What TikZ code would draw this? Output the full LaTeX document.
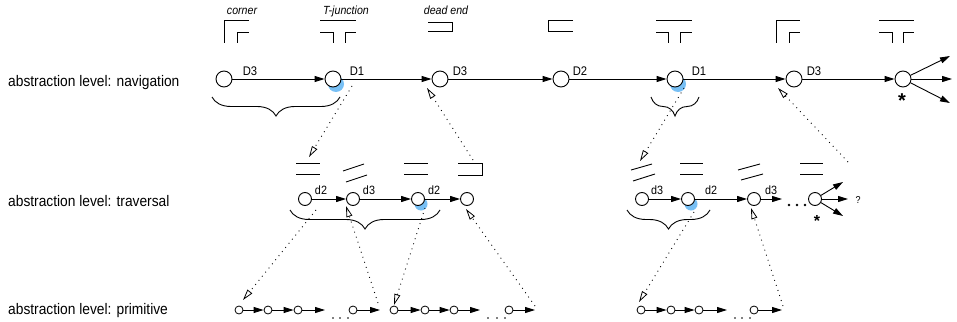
\documentclass[tikz,border=0pt]{standalone}
\usepackage{fontspec}
\setmainfont{Liberation Sans}
\newfontfamily\nar{Liberation Sans}[FakeStretch=0.9]
\usetikzlibrary{arrows.meta,decorations.pathreplacing}
\definecolor{lightblu}{RGB}{120,192,245}
\begin{document}
\begin{tikzpicture}[x=1pt,y=-1pt,
  nav/.style={circle,draw,fill=white,minimum size=16pt,inner sep=0pt,line width=0.9pt},
  trav/.style={circle,draw,fill=white,minimum size=13pt,inner sep=0pt,line width=0.9pt},
  prim/.style={circle,draw,fill=white,minimum size=8pt,inner sep=0pt,line width=0.8pt},
  arr/.style={-{Triangle[length=10pt,width=6pt]},line width=0.9pt},
  parr/.style={-{Triangle[length=10pt,width=6pt]},line width=0.9pt},
  link/.style={dash pattern=on 0.9pt off 4.4pt,line width=0.9pt,-{Triangle[open,length=11pt,width=6pt,line width=0.8pt]}},
  sym/.style={line width=0.9pt},
  lvl/.style={font=\nar\fontsize{15.3}{18}\selectfont,anchor=base west,inner sep=0pt},
  dlab/.style={font=\nar\fontsize{12.5}{15}\selectfont,anchor=base,inner sep=0pt},
  tlab/.style={font=\nar\fontsize{12}{14}\selectfont,anchor=base,inner sep=0pt},
  kind/.style={font=\nar\itshape\fontsize{11.8}{14}\selectfont,anchor=base,inner sep=0pt},
  star/.style={font=\bfseries\fontsize{20}{22}\selectfont,inner sep=0pt,anchor=base},
  brc/.style={decorate,decoration={brace,mirror,amplitude=19pt},line width=0.9pt},
  bluespot/.style={fill=lightblu,draw=none},
]
\fill[white] (0,0) rectangle (957,321);
\useasboundingbox (0,0) rectangle (957,321);

% level labels
\node[lvl] (L1) at (8,86) {abstraction level: navigation};
\node[lvl] (L2) at (8,206) {abstraction level: traversal};
\node[lvl] (L3) at (8,314) {abstraction level: primitive};

% kind labels
\node[kind] (k1) at (242,15) {corner};
\node[kind] (k2) at (346,15) {T-junction};
\node[kind] (k3) at (446,15) {dead end};

% navigation symbols
\draw[sym] (224,43)--(224,20)--(249,20) (237,43)--(237,32)--(249,32);
\draw[sym] (320,20)--(356,20) (320,32)--(333,32)--(333,43) (345,43)--(345,32)--(356,32);
\draw[sym] (428,22)--(452,22)--(452,31)--(428,31);
\draw[sym] (573,20)--(548,20)--(548,31)--(573,31);
\draw[sym] (656,20)--(692,20) (656,32)--(668,32)--(668,43) (680,43)--(680,32)--(692,32);
\draw[sym] (776,43)--(776,20)--(800,20) (789,43)--(789,32)--(800,32);
\draw[sym] (879,20)--(914,20) (879,32)--(892,32)--(892,43) (903,43)--(903,32)--(914,32);

% navigation level
\path[bluespot] (336,84) circle (8pt);
\path[bluespot] (678,84) circle (8pt);
\node[nav] (n1) at (224,79) {};
\node[nav] (n2) at (333,79) {};
\node[nav] (n3) at (440,79) {};
\node[nav] (n4) at (561,79) {};
\node[nav] (n5) at (675,79) {};
\node[nav] (n6) at (794,79) {};
\node[nav] (n7) at (903,79) {};
\draw[arr] (n1)--(n2);
\draw[arr] (n2)--(n3);
\draw[arr] (n3)--(n4);
\draw[arr] (n4)--(n5);
\draw[arr] (n5)--(n6);
\draw[arr] (n6)--(n7);
\coordinate (o1) at (950,56);
\coordinate (o2) at (952,79);
\coordinate (o3) at (950,103);
\draw[arr] (n7)--(o1);
\draw[arr] (n7)--(o2);
\draw[arr] (n7)--(o3);
\node[star] (s1) at (902,107) {*};
\node[dlab] (D1) at (250,75) {D3};
\node[dlab] (D2) at (357,75) {D1};
\node[dlab] (D3) at (460,75) {D3};
\node[dlab] (D4) at (580,75) {D2};
\node[dlab] (D5) at (699,75) {D1};
\node[dlab] (D6) at (814,75) {D3};

\draw[brc] (212,97) -- (340,97);
\draw[brc] (651,97) -- (699,97);

% traversal symbols
\draw[sym] (296,163)--(320,163) (296,174)--(320,174);
\draw[sym] (343,171)--(364,164) (346,182)--(367,175);
\draw[sym] (404,163)--(428,163) (404,174)--(428,174);
\draw[sym] (458,163)--(482,163)--(482,175)--(458,175);
\draw[sym] (631,170)--(652,164) (633,181)--(655,174);
\draw[sym] (680,163)--(703,163) (680,174)--(703,174);
\draw[sym] (738,170)--(760,164) (741,180)--(763,174);
\draw[sym] (800,163)--(823,163) (800,174)--(823,174);

% traversal level
\path[bluespot] (421,204) circle (6.5pt);
\path[bluespot] (691,204) circle (6.5pt);
\node[trav] (t1) at (305,199) {};
\node[trav] (t2) at (353,199) {};
\node[trav] (t3) at (418,199) {};
\node[trav] (t4) at (467,199) {};
\node[trav] (t5) at (642,199) {};
\node[trav] (t6) at (688,199) {};
\node[trav] (t7) at (754,199) {};
\node[trav] (t8) at (815,199) {};
\draw[arr] (t1)--(t2);
\draw[arr] (t2)--(t3);
\draw[arr] (t3)--(t4);
\draw[arr] (t5)--(t6);
\draw[arr] (t6)--(t7);
\coordinate (e1) at (782,199);
\draw[arr] (t7)--(e1);
\foreach \x in {789,797,805} \fill (\x,205) circle (1.3pt);
\coordinate (q1) at (843,182);
\coordinate (q2) at (848,199);
\coordinate (q3) at (843,216);
\draw[arr] (t8)--(q1);
\draw[arr] (t8)--(q2);
\draw[arr] (t8)--(q3);
\node[font=\nar\fontsize{10}{12}\selectfont,inner sep=0pt] (qm) at (858,200) {?};
\node[star,font=\bfseries\fontsize{16}{18}\selectfont] (s2) at (817,226) {*};
\node[tlab] (d1) at (321,194) {d2};
\node[tlab] (d2) at (369,194) {d3};
\node[tlab] (d3) at (434,194) {d2};
\node[tlab] (d4) at (657,194) {d3};
\node[tlab] (d5) at (711,194) {d2};
\node[tlab] (d6) at (771,194) {d3};

\draw[brc] (290,210) -- (440,210);
\draw[brc] (627,210) -- (710,210);

% primitive level
\node[prim] (p1) at (239,310) {};
\node[prim] (p2) at (268,310) {};
\node[prim] (p3) at (298,310) {};
\node[prim] (p4) at (353,310) {};
\node[prim] (p5) at (394,310) {};
\node[prim] (p6) at (425,310) {};
\node[prim] (p7) at (454,310) {};
\node[prim] (p8) at (509,310) {};
\node[prim] (p9) at (641,310) {};
\node[prim] (p10) at (671,310) {};
\node[prim] (p11) at (699,310) {};
\node[prim] (p12) at (754,310) {};
\coordinate (f1) at (325,310);
\coordinate (f2) at (380,310);
\coordinate (f3) at (480,310);
\coordinate (f4) at (535,310);
\coordinate (f5) at (727,310);
\coordinate (f6) at (782,310);
\draw[parr] (p1)--(p2);
\draw[parr] (p2)--(p3);
\draw[parr] (p3)--(f1);
\draw[parr] (p4)--(f2);
\draw[parr] (p5)--(p6);
\draw[parr] (p6)--(p7);
\draw[parr] (p7)--(f3);
\draw[parr] (p8)--(f4);
\draw[parr] (p9)--(p10);
\draw[parr] (p10)--(p11);
\draw[parr] (p11)--(f5);
\draw[parr] (p12)--(f6);
\foreach \x in {333,340,348,488,497,505,735,742,750} \fill (\x,318) circle (0.9pt);

% dotted links
\coordinate (a0) at (352,86);  \coordinate (a1) at (309,157);
\coordinate (b0) at (473,160); \coordinate (b1) at (427,88);
\coordinate (c0) at (684,88);  \coordinate (c1) at (640,161);
\coordinate (g0) at (848,162); \coordinate (g1) at (778,88);
\coordinate (h0) at (316,210); \coordinate (h1) at (243,300);
\coordinate (i0) at (378,303); \coordinate (i1) at (346,206);
\coordinate (j0) at (425,208); \coordinate (j1) at (394,305);
\coordinate (k0) at (535,306); \coordinate (k1) at (466,209);
\coordinate (l0) at (694,212); \coordinate (l1) at (639,302);
\coordinate (m0) at (783,306); \coordinate (m1) at (751,208);
\draw[link] (a0)--(a1);
\draw[link] (b0)--(b1);
\draw[link] (c0)--(c1);
\draw[link] (g0)--(g1);
\draw[link] (h0)--(h1);
\draw[link] (i0)--(i1);
\draw[link] (j0)--(j1);
\draw[link] (k0)--(k1);
\draw[link] (l0)--(l1);
\draw[link] (m0)--(m1);
\end{tikzpicture}
\end{document}
